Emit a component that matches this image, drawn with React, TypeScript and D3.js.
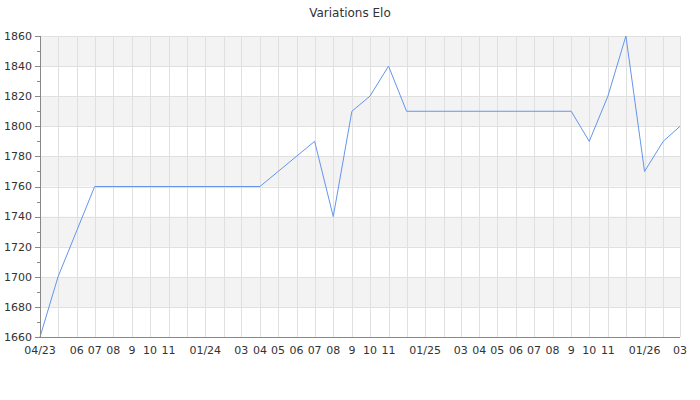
import React from "react";
import * as d3 from "d3";

const title = "Variations Elo";
const dates = [
  "2023-04", "2023-05", "2023-07", "2024-04", "2024-07", "2024-08", "2024-09",
  "2024-10", "2024-11", "2024-12", "2025-09", "2025-10", "2025-11", "2025-12",
  "2026-01", "2026-02", "2026-03",
];
const elo = [1660, 1700, 1760, 1760, 1790, 1740, 1810, 1820, 1840, 1810, 1810, 1790, 1820, 1860, 1770, 1790, 1800];
const monthLabels = [
  "04/23", "", "06", "07", "08", "9", "10", "11", "", "01/24", "", "03",
  "04", "05", "06", "07", "08", "9", "10", "11", "", "01/25", "", "03",
  "04", "05", "06", "07", "08", "9", "10", "11", "", "01/26", "", "03",
];
const yTicks = [1660, 1680, 1700, 1720, 1740, 1760, 1780, 1800, 1820, 1840, 1860];
const yMinorTicks = [1670, 1690, 1710, 1730, 1750, 1770, 1790, 1810, 1830, 1850];

const W = 700, H = 400;
const M = { left: 40, right: 20, top: 36, bottom: 63 };
const parse = d3.timeParse("%Y-%m");

export default function App() {
  const data = dates.map((d, i) => ({ date: parse(d) as Date, v: elo[i] }));
  const start = parse("2023-04") as Date;
  const end = parse("2026-03") as Date;
  const x = d3.scaleTime().domain([start, end]).range([M.left, W - M.right]);
  const y = d3.scaleLinear().domain([1660, 1860]).range([H - M.bottom, M.top]);
  const months = d3.timeMonth.range(start, d3.timeMonth.offset(end, 1));
  const line = d3.line<{ date: Date; v: number }>().x(d => x(d.date)).y(d => y(d.v));
  const font = "DejaVu Sans, sans-serif";
  const x0 = M.left, x1 = W - M.right, yb = H - M.bottom;

  return (
    <svg width={W} height={H} style={{ display: "block", position: "absolute", left: 0, top: 0 }} fontFamily={font}>
      <rect width={W} height={H} fill="#fff" />
      <text x={W / 2} y={17} textAnchor="middle" fontSize={12} fill="#333">{title}</text>
      {yTicks.slice(0, -1).map((t, i) =>
        i % 2 === 1 ? (
          <rect key={"b" + t} x={x0} y={y(yTicks[i + 1])} width={x1 - x0} height={y(t) - y(yTicks[i + 1])} fill="#f3f3f3" />
        ) : null
      )}
      {yTicks.map(t => (
        <line key={"hy" + t} x1={x0} x2={x1} y1={Math.round(y(t)) + 0.5} y2={Math.round(y(t)) + 0.5} stroke="#e0e0e0" />
      ))}
      {months.map((m, i) => (
        <line key={"vx" + i} x1={Math.round(x(m)) + 0.5} x2={Math.round(x(m)) + 0.5} y1={M.top} y2={yb} stroke="#e0e0e0" />
      ))}
      <path d={line(data) || ""} fill="none" stroke="#6495ed" strokeWidth={1} />
      <line x1={x0 + 0.5} x2={x0 + 0.5} y1={M.top} y2={yb} stroke="#888" />
      <line x1={x0} x2={x1} y1={yb + 0.5} y2={yb + 0.5} stroke="#888" />
      {yTicks.map(t => (
        <g key={"yt" + t}>
          <line x1={x0 - 5} x2={x0} y1={Math.round(y(t)) + 0.5} y2={Math.round(y(t)) + 0.5} stroke="#888" />
          <text x={x0 - 8} y={y(t)} dy="0.35em" textAnchor="end" fontSize={11} fill="#333">{t}</text>
        </g>
      ))}
      {yMinorTicks.map(t => (
        <line key={"ym" + t} x1={x0 - 3} x2={x0} y1={Math.round(y(t)) + 0.5} y2={Math.round(y(t)) + 0.5} stroke="#888" />
      ))}
      {months.map((m, i) =>
        monthLabels[i] ? (
          <text key={"xl" + i} x={x(m)} y={yb + 17} textAnchor="middle" fontSize={11} fill="#333">{monthLabels[i]}</text>
        ) : null
      )}
    </svg>
  );
}
